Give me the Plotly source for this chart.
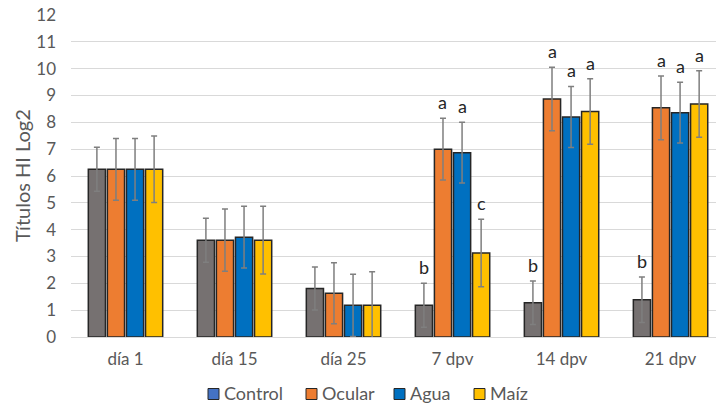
import plotly.graph_objects as go

# Hemagglutination-inhibition titres (log2) per sampling point and group
categories = ["día 1", "día 15", "día 25", "7 dpv", "14 dpv", "21 dpv"]
series_names = ["Control", "Ocular", "Agua", "Maíz"]

control = [6.25, 3.61, 1.81, 1.18, 1.28, 1.39]
ocular = [6.25, 3.61, 1.63, 7.00, 8.87, 8.54]
agua = [6.25, 3.72, 1.18, 6.87, 8.20, 8.36]
maiz = [6.25, 3.61, 1.18, 3.13, 8.40, 8.68]

control_err = [0.82, 0.82, 0.80, 0.82, 0.81, 0.85]
ocular_err = [1.15, 1.16, 1.14, 1.15, 1.18, 1.19]
agua_err = [1.15, 1.15, 1.16, 1.13, 1.14, 1.13]
maiz_err = [1.24, 1.26, 1.25, 1.26, 1.22, 1.24]

# significance letters over each bar
control_letters = ["", "", "", "b", "b", "b"]
ocular_letters = ["", "", "", "a", "a", "a"]
agua_letters = ["", "", "", "a", "a", "a"]
maiz_letters = ["", "", "", "c", "a", "a"]

y_ticks = list(range(0, 13))

values = [control, ocular, agua, maiz]
errors = [control_err, ocular_err, agua_err, maiz_err]
letters = [control_letters, ocular_letters, agua_letters, maiz_letters]
bar_colors = ["#767171", "#ED7D31", "#0070C0", "#FFC000"]
legend_colors = ["#4472C4", "#ED7D31", "#0070C0", "#FFC000"]

FONT = "Lato, 'Open Sans', sans-serif"
TEXT_GREY = "#595959"
BARGAP = 0.30
GROUPGAP = 0.10

# plot-area geometry in pixels
W, H = 716, 404
ML, MT, MB = 71, 15, 67
PW, PH = W - ML, H - MT - MB


def px_x(px):
    return (px - ML) / PW


def px_y(py):
    return (H - MB - py) / PH


fig = go.Figure()
for name, vals, errs, color in zip(series_names, values, errors, bar_colors):
    fig.add_trace(go.Bar(
        x=categories, y=vals, name=name, showlegend=False,
        marker=dict(color=color, line=dict(color="#262626", width=1.5)),
        error_y=dict(type="data", array=errs, visible=True,
                     color="#7F7F7F", thickness=1.5, width=3),
        hoverinfo="x+y+name",
    ))

# letters above the error bars
n = len(series_names)
slot = (1 - BARGAP) / n
for s in range(n):
    offset = -(1 - BARGAP) / 2 + slot * (s + 0.5)
    for i, lab in enumerate(letters[s]):
        if not lab:
            continue
        fig.add_annotation(
            x=i + offset, y=values[s][i] + errors[s][i], xref="x", yref="y",
            text=lab, showarrow=False, yanchor="bottom", yshift=3,
            font=dict(family=FONT, size=18, color="#262626"),
        )

# y-axis title
fig.add_annotation(
    x=px_x(22), y=0.5, xref="paper", yref="paper", text="Títulos HI Log2",
    textangle=-90, showarrow=False, xanchor="center", yanchor="middle",
    font=dict(family=FONT, size=20, color=TEXT_GREY),
)

# legend row below the axis: square swatch followed by the series name
legend_left = [208, 306, 394, 474]
SW = 11
LEG_CY = 393
for name, color, left in zip(series_names, legend_colors, legend_left):
    fig.add_shape(
        type="rect", xref="paper", yref="paper",
        x0=px_x(left), x1=px_x(left + SW),
        y0=px_y(LEG_CY + 1 + SW / 2), y1=px_y(LEG_CY + 1 - SW / 2),
        fillcolor=color, line=dict(color="#262626", width=1),
    )
    fig.add_annotation(
        x=px_x(left + SW + 4), y=px_y(LEG_CY), xref="paper", yref="paper",
        text=name, showarrow=False, xanchor="left", yanchor="middle",
        borderpad=0,
        font=dict(family=FONT, size=18, color=TEXT_GREY),
    )

fig.update_layout(
    width=W, height=H,
    margin=dict(l=ML, r=0, t=MT, b=MB, autoexpand=False),
    paper_bgcolor="white", plot_bgcolor="white",
    barmode="group", bargap=BARGAP, bargroupgap=GROUPGAP,
    font=dict(family=FONT, color=TEXT_GREY, size=17),
    showlegend=False,
    xaxis=dict(range=[-0.5, 5.417], showgrid=False, showline=False,
               zeroline=False, ticks="", tickfont=dict(size=17, color=TEXT_GREY),
               ticklabelstandoff=10, automargin=False),
    yaxis=dict(range=[0, 12], tickvals=y_ticks, showgrid=True,
               gridcolor="#D9D9D9", gridwidth=1, zeroline=True,
               zerolinecolor="#D9D9D9", zerolinewidth=1, showline=False,
               tickfont=dict(size=17, color=TEXT_GREY), ticklabelstandoff=14,
               automargin=False),
)

fig.write_html("out.html")
